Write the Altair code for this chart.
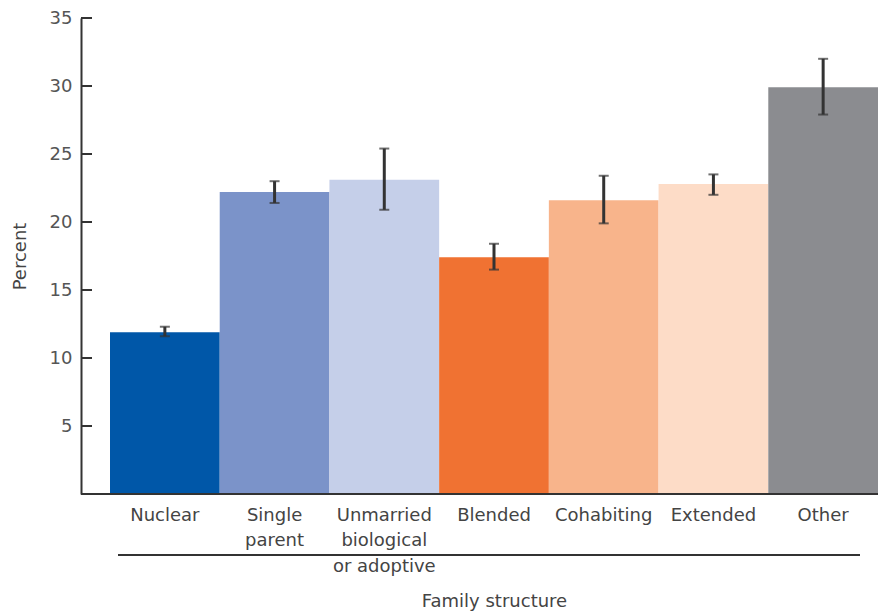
import altair as alt
import pandas as pd

categories = ["Nuclear", "Single parent", "Unmarried biological or adoptive",
              "Blended", "Cohabiting", "Extended", "Other"]
label_lines = ["Nuclear", "Single|parent", "Unmarried|biological|or adoptive",
               "Blended", "Cohabiting", "Extended", "Other"]
values = [11.9, 22.2, 23.1, 17.4, 21.6, 22.8, 29.9]
lower = [11.6, 21.4, 20.9, 16.5, 19.9, 22.0, 27.9]
upper = [12.3, 23.0, 25.4, 18.4, 23.4, 23.5, 32.0]
colors = ["#0057a8", "#7b93c9", "#c5cfe9", "#f07232", "#f8b48b", "#fddcc7", "#8b8c90"]
y_ticks = [5, 10, 15, 20, 25, 30, 35]

W, H = 768, 476
FONT = "DejaVu Sans"
FS = 18

df = pd.DataFrame({"cat": categories, "lab": label_lines, "val": values,
                   "lo": lower, "hi": upper})
ticks_df = pd.DataFrame({"t": y_ticks})

label_map = "{" + ",".join(f"'{c}':'{l}'" for c, l in zip(categories, label_lines)) + "}"

x = alt.X("cat:N", sort=categories,
          scale=alt.Scale(paddingInner=0, paddingOuter=0),
          axis=alt.Axis(title="Family structure", labelAngle=0, ticks=False, domain=False,
                        labelExpr=f"split({label_map}[datum.label], '|')",
                        labelFont=FONT, labelFontSize=FS, labelColor="#444",
                        labelLineHeight=25.5, labelPadding=12, labelBaseline="top",
                        titleFont=FONT, titleFontSize=FS, titleFontWeight="normal",
                        titleColor="#444", titleY=98, titleBaseline="top"))
yscale = alt.Scale(domain=[0, 35], nice=False)

bars = alt.Chart(df).mark_bar().encode(
    x=x,
    y=alt.Y("val:Q", scale=yscale,
            axis=alt.Axis(title="Percent", values=y_ticks, ticks=False, grid=False,
                          offset=29, domainColor="#333", domainWidth=2,
                          labelFont=FONT, labelFontSize=FS, labelColor="#555",
                          labelPadding=9,
                          titleFont=FONT, titleFontSize=FS, titleFontWeight="normal",
                          titleColor="#444", titleX=-52, titleY=238)),
    color=alt.Color("cat:N", sort=categories,
                    scale=alt.Scale(domain=categories, range=colors), legend=None),
)

err = alt.Chart(df).mark_rule(color="#333", strokeWidth=3).encode(
    x=alt.X("cat:N", sort=categories), y=alt.Y("lo:Q", scale=yscale), y2="hi:Q")
cap_lo = alt.Chart(df).mark_tick(color="#333", orient="horizontal", size=10, thickness=2).encode(
    x=alt.X("cat:N", sort=categories), y=alt.Y("lo:Q", scale=yscale))
cap_hi = alt.Chart(df).mark_tick(color="#333", orient="horizontal", size=10, thickness=2).encode(
    x=alt.X("cat:N", sort=categories), y=alt.Y("hi:Q", scale=yscale))

yticks = alt.Chart(ticks_df).mark_rule(color="#333", strokeWidth=2).encode(
    y=alt.Y("t:Q", scale=yscale), x=alt.value(-29), x2=alt.value(-18))

xaxis_line = alt.Chart(ticks_df.head(1)).mark_rule(color="#333", strokeWidth=2).encode(
    x=alt.value(-29), x2=alt.value(W), y=alt.value(H))
group_line = alt.Chart(ticks_df.head(1)).mark_rule(color="#333", strokeWidth=2).encode(
    x=alt.value(8), x2=alt.value(750), y=alt.value(537))

chart = alt.layer(bars, err, cap_lo, cap_hi, yticks, xaxis_line, group_line).properties(
    width=W, height=H,
    autosize=alt.AutoSizeParams(type="none"),
    padding={"left": 102, "top": 10, "right": 1, "bottom": 128},
).configure_view(stroke=None).configure_axis(grid=False)

chart.save("out.html", embed_options={"renderer": "svg", "actions": False})
